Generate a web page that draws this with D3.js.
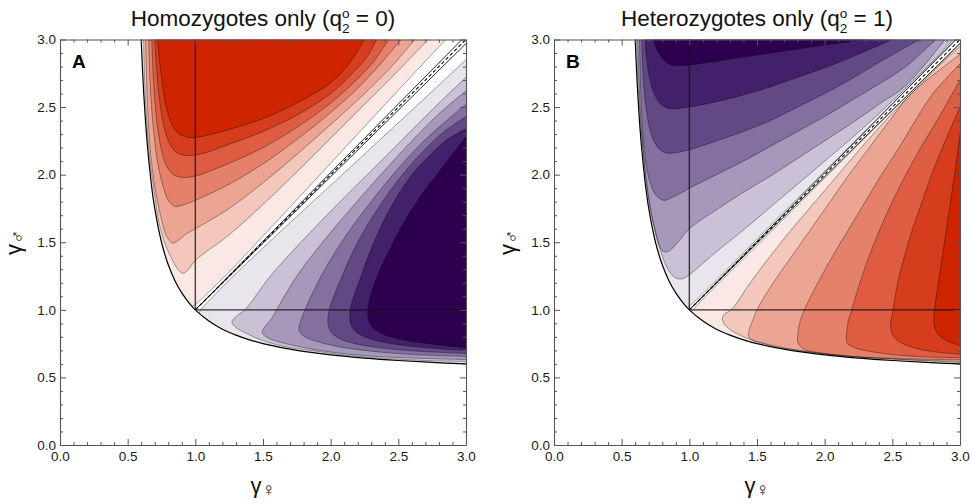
<!DOCTYPE html>
<html><head><meta charset="utf-8">
<script src="https://cdn.jsdelivr.net/npm/d3@7"></script>
<style>body{margin:0;background:#fff}svg{display:block}</style>
</head><body>
<svg id="chart" width="972" height="504"></svg>
<script>
// Axis ticks (γ values)
const majorTicks = [0, 0.5, 1, 1.5, 2, 2.5, 3];
const minorTicks = [0.1,0.2,0.3,0.4,0.6,0.7,0.8,0.9,1.1,1.2,1.3,1.4,1.6,1.7,1.8,1.9,2.1,2.2,2.3,2.4,2.6,2.7,2.8,2.9];

// Band colours, from strongest red to strongest purple
const bandColors = ["#cf2400","#d63d1d","#de5c42","#e5806a","#eca593","#f3c7bc","#f9e8e4",
  "#ffffff","#e8e5ed","#cbc1d7","#a698ba","#836fa0","#624985","#42206a","#2d004f"];

// Edge of the admissible region, [γ♀, γ♂]
const boundary = [[0.6,3],[0.61,2.77],[0.62,2.58],[0.635,2.35],[0.65,2.17],[0.675,1.93],[0.7,1.75],
  [0.75,1.5],[0.8,1.333],[0.85,1.214],[0.9,1.125],[0.95,1.056],[1,1],[1.1,0.917],[1.2,0.857],
  [1.3,0.813],[1.4,0.778],[1.5,0.75],[1.75,0.7],[2,0.667],[2.25,0.643],[2.5,0.625],[2.75,0.611],[3,0.6]];

// Panel A contour lines above the diagonal (outermost first)
const A_L1 = [[0.72,3],[0.735,2.85],[0.755,2.68],[0.78,2.52],[0.82,2.39],[0.87,2.31],[0.93,2.28],[1.0,2.275],[1.25,2.335],[1.5,2.415],[1.75,2.53],[2.0,2.68],[2.12,2.8],[2.25,3]];
const A_L2 = [[0.70,3],[0.712,2.8],[0.73,2.6],[0.755,2.42],[0.79,2.28],[0.835,2.19],[0.89,2.15],[1.0,2.145],[1.25,2.225],[1.5,2.32],[1.75,2.44],[2.0,2.6],[2.15,2.74],[2.26,2.86],[2.34,3]];
const A_L3 = [[0.678,3],[0.688,2.75],[0.705,2.5],[0.725,2.32],[0.75,2.18],[0.79,2.06],[0.84,2.0],[0.9,1.98],[1.0,1.99],[1.25,2.085],[1.5,2.2],[1.75,2.35],[2.0,2.53],[2.2,2.71],[2.32,2.84],[2.43,3]];
const A_L4 = [[0.655,3],[0.665,2.7],[0.68,2.45],[0.7,2.25],[0.725,2.07],[0.76,1.92],[0.8,1.81],[0.85,1.765],[0.92,1.78],[1.0,1.81],[1.25,1.93],[1.5,2.08],[1.75,2.26],[2.0,2.46],[2.2,2.64],[2.36,2.81],[2.52,3]];
const A_L5 = [[0.632,3],[0.64,2.7],[0.652,2.4],[0.67,2.15],[0.695,1.95],[0.725,1.78],[0.76,1.63],[0.79,1.54],[0.83,1.495],[0.87,1.51],[0.93,1.56],[1.0,1.6],[1.25,1.75],[1.5,1.94],[1.75,2.15],[2.0,2.37],[2.25,2.6],[2.45,2.8],[2.62,3]];
const A_L6 = [[0.618,3],[0.625,2.7],[0.64,2.4],[0.665,2.1],[0.70,1.85],[0.73,1.65],[0.78,1.48],[0.83,1.37],[0.87,1.3],[0.91,1.27],[0.95,1.3],[1.0,1.365],[1.25,1.555],[1.5,1.78],[1.75,2.02],[2.0,2.27],[2.25,2.52],[2.5,2.77],[2.72,3]];
const A_L7 = [[0.975,1.026],[1.0,1.04],[1.05,1.085],[1.2,1.23],[1.5,1.545],[2.0,2.085],[2.5,2.625],[2.85,3]];
// Panel A contour lines below the diagonal (outermost first)
const A_L14 = [[3,0.72],[2.85,0.735],[2.68,0.755],[2.52,0.78],[2.39,0.82],[2.31,0.87],[2.28,0.93],[2.275,1.0],[2.3,1.12],[2.365,1.3],[2.44,1.45],[2.51,1.59],[2.65,1.82],[2.8,2.02],[3,2.28]];
const A_L13 = [[3,0.70],[2.8,0.712],[2.6,0.73],[2.42,0.755],[2.28,0.79],[2.19,0.835],[2.15,0.89],[2.145,1.0],[2.225,1.25],[2.32,1.5],[2.44,1.75],[2.6,2.0],[2.74,2.15],[2.86,2.26],[3,2.34]];
const A_L12 = [[3,0.678],[2.75,0.688],[2.5,0.705],[2.32,0.725],[2.18,0.75],[2.06,0.79],[2.0,0.84],[1.98,0.9],[1.99,1.0],[2.085,1.25],[2.2,1.5],[2.35,1.75],[2.53,2.0],[2.71,2.2],[2.84,2.32],[3,2.43]];
const A_L11 = [[3,0.655],[2.7,0.665],[2.45,0.68],[2.25,0.7],[2.07,0.725],[1.92,0.76],[1.81,0.8],[1.765,0.85],[1.78,0.92],[1.81,1.0],[1.93,1.25],[2.08,1.5],[2.26,1.75],[2.46,2.0],[2.64,2.2],[2.81,2.36],[3,2.52]];
const A_L10 = [[3,0.632],[2.7,0.64],[2.4,0.652],[2.15,0.67],[1.95,0.695],[1.78,0.725],[1.63,0.76],[1.54,0.79],[1.495,0.83],[1.51,0.87],[1.56,0.93],[1.6,1.0],[1.75,1.25],[1.94,1.5],[2.15,1.75],[2.37,2.0],[2.6,2.25],[2.8,2.45],[3,2.62]];
const A_L9 = [[3,0.618],[2.7,0.625],[2.4,0.64],[2.1,0.665],[1.85,0.70],[1.65,0.73],[1.48,0.78],[1.37,0.83],[1.3,0.87],[1.27,0.91],[1.3,0.95],[1.365,1.0],[1.555,1.25],[1.78,1.5],[2.02,1.75],[2.27,2.0],[2.52,2.25],[2.77,2.5],[3,2.72]];
const A_L8 = [[1.026,0.975],[1.04,1.0],[1.085,1.05],[1.23,1.2],[1.545,1.5],[2.085,2.0],[2.625,2.5],[3,2.85]];

// Panel B contour lines above the diagonal (outermost first)
const B_P1 = [[0.735,3],[0.76,2.93],[0.8,2.86],[0.85,2.82],[0.9,2.807],[1.0,2.812],[1.2,2.84],[1.4,2.87],[1.6,2.9],[1.8,2.93],[2.0,2.96],[2.3,3]];
const B_P2 = [[0.672,3],[0.685,2.85],[0.705,2.72],[0.74,2.6],[0.79,2.52],[0.85,2.49],[0.9,2.488],[1.0,2.5],[1.2,2.54],[1.4,2.59],[1.6,2.65],[1.8,2.72],[2.0,2.79],[2.2,2.87],[2.5,3]];
const B_P3 = [[0.648,3],[0.655,2.8],[0.668,2.6],[0.685,2.46],[0.71,2.33],[0.745,2.235],[0.79,2.18],[0.83,2.16],[0.9,2.163],[1.0,2.185],[1.2,2.25],[1.4,2.32],[1.6,2.4],[1.8,2.5],[2.0,2.6],[2.2,2.71],[2.4,2.83],[2.7,3]];
const B_P4 = [[0.631,3],[0.638,2.7],[0.648,2.45],[0.66,2.25],[0.68,2.08],[0.7,1.98],[0.725,1.9],[0.76,1.84],[0.81,1.81],[0.87,1.83],[0.93,1.86],[1.0,1.9],[1.2,2.0],[1.4,2.1],[1.6,2.21],[1.8,2.32],[2.0,2.43],[2.2,2.55],[2.4,2.67],[2.6,2.8],[2.82,3]];
const B_P5 = [[0.618,3],[0.628,2.7],[0.642,2.4],[0.662,2.15],[0.68,1.95],[0.705,1.78],[0.735,1.63],[0.762,1.52],[0.785,1.46],[0.81,1.43],[0.84,1.43],[0.88,1.46],[0.94,1.53],[1.0,1.6],[1.2,1.74],[1.4,1.87],[1.6,1.99],[1.8,2.12],[2.0,2.25],[2.2,2.38],[2.4,2.52],[2.6,2.66],[2.89,3]];
const B_P6 = [[0.61,3],[0.62,2.7],[0.635,2.45],[0.655,2.2],[0.68,1.98],[0.705,1.8],[0.74,1.62],[0.775,1.48],[0.81,1.37],[0.855,1.28],[0.9,1.235],[0.95,1.23],[1.0,1.26],[1.2,1.43],[1.4,1.59],[1.6,1.76],[1.8,1.93],[2.0,2.1],[2.2,2.27],[2.4,2.45],[2.6,2.64],[2.8,2.84],[2.95,3]];
const B_P7 = [[0.985,1.015],[1.02,1.045],[1.1,1.12],[1.5,1.525],[2.0,2.025],[2.5,2.525],[2.97,3]];
// Panel B contour lines below the diagonal (outermost first)
const B_Q1 = [[3,0.735],[2.93,0.76],[2.86,0.8],[2.82,0.85],[2.807,0.9],[2.812,1.0],[2.84,1.2],[2.87,1.4],[2.9,1.6],[2.93,1.8],[2.96,2.0],[3,2.3]];
const B_Q2 = [[3,0.672],[2.85,0.685],[2.72,0.705],[2.6,0.74],[2.52,0.79],[2.49,0.85],[2.488,0.9],[2.505,1.0],[2.54,1.2],[2.59,1.4],[2.65,1.6],[2.72,1.8],[2.79,2.0],[2.87,2.2],[3,2.5]];
const B_Q3 = [[3,0.645],[2.8,0.65],[2.6,0.66],[2.45,0.675],[2.32,0.695],[2.22,0.72],[2.17,0.75],[2.16,0.78],[2.165,0.85],[2.175,0.92],[2.2,1.0],[2.26,1.2],[2.33,1.4],[2.41,1.6],[2.5,1.8],[2.6,2.0],[2.71,2.2],[2.83,2.4],[3,2.7]];
const B_Q4 = [[3,0.63],[2.7,0.635],[2.45,0.643],[2.25,0.652],[2.08,0.668],[1.95,0.685],[1.87,0.7],[1.82,0.73],[1.8,0.77],[1.805,0.84],[1.82,0.92],[1.85,1.0],[1.95,1.2],[2.06,1.4],[2.18,1.6],[2.3,1.8],[2.42,2.0],[2.55,2.2],[2.67,2.4],[2.8,2.6],[3,2.82]];
const B_Q5 = [[3,0.618],[2.7,0.628],[2.4,0.642],[2.15,0.66],[1.95,0.68],[1.78,0.705],[1.64,0.73],[1.54,0.755],[1.47,0.775],[1.44,0.8],[1.44,0.84],[1.46,0.9],[1.5,1.0],[1.62,1.2],[1.76,1.4],[1.9,1.6],[2.04,1.8],[2.18,2.0],[2.33,2.2],[2.48,2.4],[2.64,2.6],[3,2.89]];
const B_Q6 = [[3,0.61],[2.7,0.625],[2.45,0.638],[2.2,0.653],[1.98,0.676],[1.8,0.7],[1.62,0.73],[1.48,0.77],[1.38,0.81],[1.3,0.855],[1.255,0.9],[1.245,0.94],[1.26,0.97],[1.31,1.0],[1.45,1.2],[1.6,1.4],[1.76,1.6],[1.93,1.8],[2.1,2.0],[2.27,2.2],[2.45,2.4],[2.64,2.6],[2.84,2.8],[3,2.95]];
const B_Q7 = [[1.015,0.985],[1.045,1.02],[1.12,1.1],[1.525,1.5],[2.025,2.0],[2.525,2.5],[3,2.97]];

// Thin band around the diagonal
const diagUpper = [[1,1],[2.97,3]];
const diagLower = [[1,1],[3,2.97]];
const diagonal = [[1,1],[3,3]];

const panels = [
  {x0: 60, letter: "A", title: "Homozygotes only", q: "0",
   upper: [A_L1, A_L2, A_L3, A_L4, A_L5, A_L6, A_L7], upperFill: [0,1,2,3,4,5,6],
   lower: [A_L14, A_L13, A_L12, A_L11, A_L10, A_L9, A_L8], lowerFill: [14,13,12,11,10,9,8]},
  {x0: 554, letter: "B", title: "Heterozygotes only", q: "1",
   upper: [B_P1, B_P2, B_P3, B_P4, B_P5, B_P6, B_P7], upperFill: [14,13,12,11,10,9,8],
   lower: [B_Q1, B_Q2, B_Q3, B_Q4, B_Q5, B_Q6, B_Q7], lowerFill: [0,1,2,3,4,5,6]}
];

const svg = d3.select("#chart");
const FONT = "'Liberation Sans', Arial, Helvetica, sans-serif";
const fmt = d3.format(".1f");

panels.forEach(p => {
  const x = d3.scaleLinear().domain([0, 3]).range([p.x0, p.x0 + 406]);
  const y = d3.scaleLinear().domain([0, 3]).range([445, 39.5]);
  const g = svg.append("g");
  const smooth = d3.line().x(d => x(d[0])).y(d => y(d[1])).curve(d3.curveCatmullRom.alpha(0.5));
  const straight = d3.line().x(d => x(d[0])).y(d => y(d[1]));

  const region = smooth(boundary) + `L${x(3)},${y(3)}Z`;
  const clipId = "clip" + p.letter;
  g.append("clipPath").attr("id", clipId).append("path").attr("d", region);
  const plot = g.append("g").attr("clip-path", `url(#${clipId})`);
  plot.append("path").attr("d", region).attr("fill", bandColors[7]);

  // filled bands above the diagonal: innermost first
  for (let i = p.upper.length - 1; i >= 0; i--) {
    const pts = p.upper[i];
    const close = pts[0][1] < 2.999 ? `L${x(0)},${y(3)}L${x(0)},${y(0)}` : "";
    plot.append("path").attr("d", smooth(pts) + close + "Z").attr("fill", bandColors[p.upperFill[i]]);
  }
  // filled bands below the diagonal: innermost first
  for (let i = p.lower.length - 1; i >= 0; i--) {
    const pts = p.lower[i];
    const close = pts[0][0] < 2.999 ? `L${x(3)},${y(0)}L${x(0)},${y(0)}` : "";
    plot.append("path").attr("d", smooth(pts) + close + "Z").attr("fill", bandColors[p.lowerFill[i]]);
  }
  // contour lines
  p.upper.concat(p.lower).forEach(pts => {
    plot.append("path").attr("d", smooth(pts)).attr("fill", "none")
      .attr("stroke", "rgba(0,0,0,0.45)").attr("stroke-width", 0.8);
  });
  [diagUpper, diagLower].forEach(pts => {
    plot.append("path").attr("d", straight(pts)).attr("fill", "none")
      .attr("stroke", "#111").attr("stroke-width", 0.9);
  });
  plot.append("path").attr("d", straight(diagonal)).attr("fill", "none")
    .attr("stroke", "#000").attr("stroke-width", 1.1).attr("stroke-dasharray", "3.5,2.5");

  // reference lines γ♀ = 1 and γ♂ = 1
  g.append("line").attr("x1", x(1)).attr("x2", x(1)).attr("y1", y(1)).attr("y2", y(3))
    .attr("stroke", "rgba(20,20,20,0.8)").attr("stroke-width", 1.4);
  g.append("line").attr("x1", x(1)).attr("x2", x(3)).attr("y1", y(1)).attr("y2", y(1))
    .attr("stroke", "rgba(20,20,20,0.85)").attr("stroke-width", 1.3);

  // edge of the admissible region
  g.append("path").attr("d", smooth(boundary)).attr("fill", "none")
    .attr("stroke", "#000").attr("stroke-width", 1.2);

  // frame with inward ticks on all sides
  const axes = [
    {gen: d3.axisBottom(x), tr: `translate(0,${y(0)})`, labels: true, pad: 6},
    {gen: d3.axisTop(x), tr: `translate(0,${y(3)})`, labels: false, pad: 6},
    {gen: d3.axisLeft(y), tr: `translate(${x(0)},0)`, labels: true, pad: 4},
    {gen: d3.axisRight(y), tr: `translate(${x(3)},0)`, labels: false, pad: 4}
  ];
  axes.forEach(a => {
    const major = g.append("g").attr("transform", a.tr)
      .call(a.gen.tickValues(majorTicks).tickSizeInner(-6).tickSizeOuter(0).tickPadding(a.pad)
        .tickFormat(a.labels ? fmt : () => ""));
    major.select(".domain").attr("stroke", "#555").attr("stroke-width", 1.1);
    major.selectAll(".tick line").attr("stroke", "#555");
    major.selectAll(".tick text").attr("fill", "#1a1a1a").style("font", `13.5px ${FONT}`);
    const minor = g.append("g").attr("transform", a.tr)
      .call(a.gen.tickValues(minorTicks).tickSizeInner(-3).tickSizeOuter(0).tickFormat(() => ""));
    minor.select(".domain").remove();
    minor.selectAll(".tick line").attr("stroke", "#555");
  });

  // panel letter
  g.append("text").attr("x", x(0) + 12).attr("y", 68).text(p.letter)
    .style("font", `bold 19px ${FONT}`).attr("fill", "#000");

  // title with q₂ᵒ (sub- and superscript stacked)
  const cx = (x(0) + x(3)) / 2;
  const t = g.append("text").attr("x", cx).attr("y", 25.5).attr("text-anchor", "middle")
    .style("font", `22.5px ${FONT}`).attr("fill", "#111");
  t.append("tspan").text(p.title + " (q");
  t.append("tspan").attr("dy", 7).style("font-size", "13.5px").text("2");
  t.append("tspan").attr("dx", -7.5).attr("dy", -15).style("font-size", "13.5px").text("o");
  t.append("tspan").attr("dy", 8).text(" = " + p.q + ")");

  // axis titles
  const xl = g.append("text").attr("x", cx).attr("y", 493).attr("text-anchor", "middle")
    .style("font", `22px ${FONT}`).attr("fill", "#111");
  xl.append("tspan").text("γ");
  xl.append("tspan").attr("dy", 3).style("font-size", "19px").text("♀");
  const ylab = g.append("text").attr("transform", `translate(${x(0) - 39},${(y(0) + y(3)) / 2}) rotate(-90)`)
    .attr("text-anchor", "middle").style("font", `22px ${FONT}`).attr("fill", "#111");
  ylab.append("tspan").text("γ");
  ylab.append("tspan").attr("dy", 3).style("font-size", "19px").text("♂");
});
</script>
</body></html>
